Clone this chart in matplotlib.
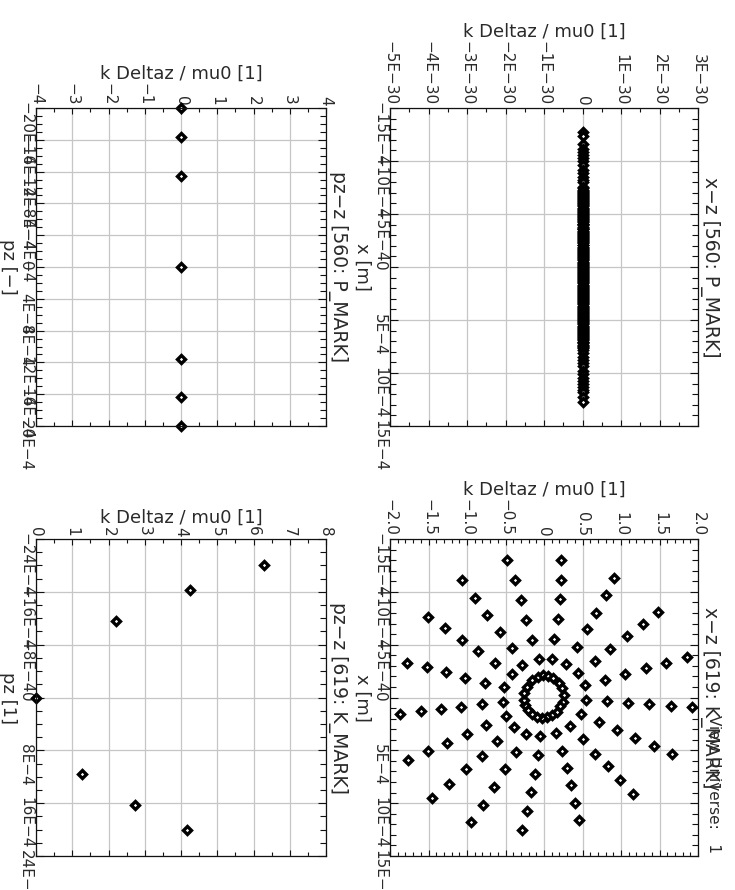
import matplotlib
matplotlib.use("Agg")
import matplotlib.pyplot as plt
import numpy as np
from matplotlib.ticker import FixedLocator, FixedFormatter, MultipleLocator

# ---------------- data (x / pz values in units of 1E-4) ----------------
# pz-z [560: P_MARK]
pz_560 = [-20.0, -16.3, -11.5, 0.0, 11.6, 16.3, 20.0]
kdz_560_pz = [0.0, 0.0, 0.0, 0.0, 0.0, 0.0, 0.0]

# x-z [560: P_MARK]
x_560 = [-12.78, -12.37, -11.59, -11.12, -10.85, -10.58, -10.30, -10.02, -9.64,
         -9.11, -8.83, -8.52, -8.24, -7.98,
         -7.53, -7.31, -7.12, -6.90, -6.71, -6.52, -6.30, -6.11, -5.93, -5.72,
         -5.50, -5.33, -5.12, -4.94, -4.71, -4.52, -4.33, -4.10, -3.92, -3.71,
         -3.54, -3.32, -3.13, -2.91, -2.74, -2.52, -2.33, -2.12, -1.93, -1.74,
         -1.52, -1.31, -1.14, -0.92, -0.73, -0.51, -0.33, -0.12, 0.08, 0.27,
         0.46, 0.68, 0.87, 1.06, 1.27, 1.45, 1.66, 1.84, 2.05, 2.26, 2.44,
         2.65, 2.83, 3.04, 3.25, 3.43, 3.64, 3.85, 4.03, 4.24, 4.42, 4.63,
         4.84, 5.02, 5.23, 5.41, 5.62, 5.83, 6.01, 6.22, 6.43, 6.61, 6.82,
         7.03, 7.21, 7.44, 7.65,
         -7.42, -7.21, -7.01, -6.80, -6.61, -6.41, -6.20, -6.02, -5.82, -5.61,
         -5.41, -5.22, -5.03, -4.82, -4.62, -4.43, -4.21, -4.01, -3.82, -3.62,
         -3.43, -3.22, -3.02, -2.82, -2.63, -2.42, -2.22, -2.03, -1.83, -1.63,
         -1.42, -1.22, -1.03, -0.83, -0.62, -0.42, -0.22, -0.02, 0.17, 0.37,
         0.57, 0.77, 0.96, 1.16, 1.36, 1.55, 1.75, 1.95, 2.15, 2.35, 2.54,
         2.74, 2.94, 3.14, 3.34, 3.53, 3.74, 3.94, 4.13, 4.33, 4.52, 4.73,
         4.93, 5.12, 5.32, 5.52, 5.72, 5.92, 6.12, 6.32, 6.52, 6.71, 6.92,
         7.12, 7.33, 7.55,
         7.87, 8.15, 8.46, 8.78, 9.08, 9.38, 9.85, 10.14, 10.45, 10.73, 11.02,
         11.30, 11.58, 11.83, 12.30, 12.78]
kdz_560_x = [0.0] * len(x_560)

# pz-z [619: K_MARK]
pz_619 = [-20.0, -16.3, -11.6, 0.0, 11.6, 16.3, 20.1]
kdz_619_pz = [6.28, 4.25, 2.21, 0.0, 1.28, 2.73, 4.16]

# x-z [619: K_MARK]
kdz_619_x = [-0.486, -1.066, -0.378, -0.902, -0.300, -1.508, -0.738, -1.280, -0.228, -0.576,
             -1.066, -0.155, -0.421, -0.860, -1.775, -1.524, -0.635, -0.070, -0.280, -1.272,
             -1.022, -0.421, -0.764, -0.515,
             0.215, 0.215, 0.911, 0.206, 0.799, 0.176, 0.679, 1.486, 0.133, 0.558,
             1.289, 1.074, 0.429, 0.863, 0.103, 0.292, 0.657, 1.860, 1.589, 1.323,
             1.057, 0.447, 0.790, 0.528,
             -1.869, -1.602, -1.344, -1.079, -0.808, -0.537, -0.499, -0.751, -0.390, -1.001,
             -0.236, -0.048, -0.606, -1.259, -1.508, -0.370, -0.799, -0.077, -1.766, -1.018,
             -0.506, -0.120, -1.237, -0.644, -0.171, -1.460, -0.786, -0.223, -0.945, -0.290,
             0.550, 0.816, 1.086, 1.366, 1.646, 1.924, 0.477, 0.713, 0.344, 0.950,
             0.155, 0.506, 1.186, 1.430, 0.236, 1.666, 0.666, 0.305, 0.829, 0.357,
             0.988, 1.151, 0.400, 0.455,
             -0.219, -0.155, -0.077, -0.013, 0.052, 0.120, 0.189, 0.232, 0.254, 0.241,
             0.210, 0.168, 0.103, 0.039, -0.026, -0.090, -0.155, -0.206, -0.241, -0.262,
             -0.258]
x_619 = [-13.00, -11.08, -11.08, -9.43, -9.19, -7.60, -7.82, -6.59, -7.29, -6.21,
         -5.45, -5.45, -4.67, -4.36, -3.31, -2.84, -3.25, -3.63, -3.06, -2.37,
         -1.83, -2.21, -1.38, -0.95,
         -13.03, -11.14, -11.33, -9.28, -9.66, -7.39, -8.01, -8.08, -5.52, -6.44,
         -6.91, -5.78, -4.76, -4.60, -3.63, -3.13, -3.44, -3.82, -3.31, -2.75,
         -2.18, -2.30, -1.61, -1.14,
         1.52, 1.27, 1.08, 0.89, 0.66, 0.42, 1.74, 2.56, 2.78, 3.41,
         3.48, 3.64, 4.11, 4.30, 5.09, 5.15, 5.53, 5.40, 5.94, 6.79,
         6.79, 7.20, 8.18, 8.49, 8.99, 9.50, 10.13, 10.74, 11.78, 12.50,
         0.26, 0.35, 0.51, 0.61, 0.76, 0.89, 1.58, 2.31, 2.69, 3.10,
         3.38, 3.92, 3.83, 4.58, 5.02, 5.37, 5.30, 6.67, 6.51, 8.30,
         7.83, 9.09, 9.94, 11.55,
         -1.04, -1.67, -1.92, -2.14, -2.02, -1.83, -1.35, -0.88, -0.25, 0.38,
         0.85, 1.33, 1.70, 1.89, 1.96, 1.80, 1.58, 1.17, 0.70, 0.23,
         -0.41]

# ---------------- tick labels ----------------
k_ticks_a = [-4, -3, -2, -1, 0, 1, 2, 3, 4]
k_labels_a = ["\u22124", "\u22123", "\u22122", "\u22121", "0", "1", "2", "3", "4"]
pz_ticks_a = [-20, -16, -12, -8, -4, 0, 4, 8, 12, 16, 20]
pz_labels_a = ["\u221220E\u22124", "\u221216E\u22124", "\u221212E\u22124", "\u22128E\u22124",
               "\u22124E\u22124", "0", "4E\u22124", "8E\u22124", "12E\u22124", "16E\u22124", "20E\u22124"]

k_ticks_b = [-5, -4, -3, -2, -1, 0, 1, 2, 3]          # units 1E-30
k_labels_b = ["\u22125E\u221230", "\u22124E\u221230", "\u22123E\u221230", "\u22122E\u221230",
              "\u22121E\u221230", "0", "1E\u221230", "2E\u221230", "3E\u221230"]
x_ticks = [-15, -10, -5, 0, 5, 10, 15]
x_labels = ["\u221215E\u22124", "\u221210E\u22124", "\u22125E\u22124", "0",
            "5E\u22124", "10E\u22124", "15E\u22124"]

k_ticks_c = [0, 1, 2, 3, 4, 5, 6, 7, 8]
k_labels_c = ["0", "1", "2", "3", "4", "5", "6", "7", "8"]
pz_ticks_c = [-24, -16, -8, 0, 8, 16, 24]
pz_labels_c = ["\u221224E\u22124", "\u221216E\u22124", "\u22128E\u22124", "0",
               "8E\u22124", "16E\u22124", "24E\u22124"]

k_ticks_d = [-2.0, -1.5, -1.0, -0.5, 0.0, 0.5, 1.0, 1.5, 2.0]
k_labels_d = ["\u22122.0", "\u22121.5", "\u22121.0", "\u22120.5", "0", "0.5", "1.0", "1.5", "2.0"]

ylab_k = "k Deltaz / mu0 [1]"

# ---------------- figure ----------------
W, H = 735, 890
fig = plt.figure(figsize=(W / 100, H / 100), dpi=100)
fig.patch.set_facecolor("white")
TXT = "#2a2a2a"

def px_axes(x0, y0, x1, y1):
    return fig.add_axes([x0 / W, 1 - y1 / H, (x1 - x0) / W, (y1 - y0) / H])

def style(ax, kt, kl, kscale, kminor, vt, vl, vminor, vlim, klim, vlabel, title):
    ax.set_xlim(klim[0] * kscale, klim[1] * kscale)
    ax.set_ylim(vlim[1] * 1e-4, vlim[0] * 1e-4)
    ax.xaxis.set_major_locator(FixedLocator([t * kscale for t in kt]))
    ax.xaxis.set_major_formatter(FixedFormatter(kl))
    ax.xaxis.set_minor_locator(MultipleLocator(kminor * kscale))
    ax.yaxis.set_major_locator(FixedLocator([t * 1e-4 for t in vt]))
    ax.yaxis.set_major_formatter(FixedFormatter(vl))
    ax.yaxis.set_minor_locator(MultipleLocator(vminor * 1e-4))
    ax.grid(True, which="major", color="#c6c6c6", lw=0.9)
    ax.set_axisbelow(True)
    for s in ax.spines.values():
        s.set_color("#111111")
        s.set_linewidth(0.9)
    ax.tick_params(axis="x", which="both", direction="in", top=True, bottom=True,
                   labeltop=True, labelbottom=False, labelrotation=-90,
                   labelsize=11, labelcolor=TXT, pad=2, color="#111111", width=0.8)
    ax.tick_params(axis="y", which="both", direction="in", left=True, right=True,
                   labelleft=True, labelright=False, labelrotation=-90,
                   labelsize=11, labelcolor=TXT, pad=2, color="#111111", width=0.8)
    ax.tick_params(axis="x", which="major", length=4.5)
    ax.tick_params(axis="x", which="minor", length=3.0)
    ax.tick_params(axis="y", which="major", length=5.5)
    ax.tick_params(axis="y", which="minor", length=4.0)
    ax.xaxis.set_label_position("top")
    ax.set_xlabel(ylab_k, fontsize=13, color=TXT, labelpad=3)
    ax.set_ylabel(vlabel, fontsize=13, color=TXT, rotation=-90, va="top", labelpad=1)
    ax.text(1.006, 0.5, title, transform=ax.transAxes, rotation=-90,
            ha="left", va="center", fontsize=13.5, color=TXT)

mk = dict(ls="none", marker="D", ms=3.9, mew=2.4, mfc="white", mec="black", clip_on=False)

# top-left: pz-z [560: P_MARK]
ax1 = px_axes(36, 108, 326, 426)
style(ax1, k_ticks_a, k_labels_a, 1.0, 0.5, pz_ticks_a, pz_labels_a, 1, (-20, 20), (-4, 4),
      "pz [\u2212]", "pz\u2212z [560: P_MARK]")
ax1.plot(kdz_560_pz, np.array(pz_560) * 1e-4, **mk)

# top-right: x-z [560: P_MARK]
ax2 = px_axes(390, 108, 698, 426)
style(ax2, k_ticks_b, k_labels_b, 1e-30, 0.5, x_ticks, x_labels, 1, (-15, 15), (-5, 3),
      "x [m]", "x\u2212z [560: P_MARK]")
ax2.plot(kdz_560_x, np.array(x_560) * 1e-4, **mk)

# bottom-left: pz-z [619: K_MARK]
ax3 = px_axes(36, 539, 326, 856)
style(ax3, k_ticks_c, k_labels_c, 1.0, 0.5, pz_ticks_c, pz_labels_c, 2, (-24, 24), (0, 8),
      "pz [1]", "pz\u2212z [619: K_MARK]")
ax3.plot(kdz_619_pz, np.array(pz_619) * 1e-4, **mk)

# bottom-right: x-z [619: K_MARK]
ax4 = px_axes(390, 539, 698, 856)
style(ax4, k_ticks_d, k_labels_d, 1.0, 0.1, x_ticks, x_labels, 1, (-15, 15), (-2, 2),
      "x [m]", "x\u2212z [619: K_MARK]")
ax4.plot(kdz_619_x, np.array(x_619) * 1e-4, **mk)

fig.text(706 / W, 1 - 715 / H, "View Universe:   1", rotation=-90, ha="left", va="top",
         fontsize=11, color=TXT)

fig.savefig("out.png", dpi=100, facecolor="white")
